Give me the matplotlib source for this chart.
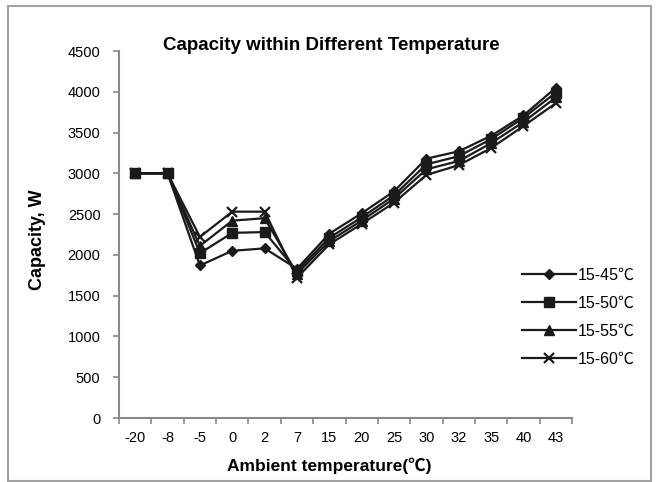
import matplotlib
matplotlib.use("Agg")
import matplotlib.pyplot as plt
from matplotlib.patches import Rectangle
import numpy as np

plt.rcParams['font.family'] = ['Liberation Sans', 'Noto Sans CJK SC', 'DejaVu Sans']

categories = ["-20", "-8", "-5", "0", "2", "7", "15", "20", "25", "30", "32", "35", "40", "43"]
s45 = [3000, 3000, 1870, 2050, 2080, 1830, 2260, 2510, 2780, 3180, 3270, 3460, 3710, 4050]
s50 = [3000, 3000, 2020, 2270, 2280, 1800, 2210, 2460, 2730, 3110, 3210, 3420, 3680, 3990]
s55 = [3000, 3000, 2110, 2420, 2450, 1770, 2170, 2420, 2690, 3050, 3150, 3370, 3630, 3930]
s60 = [3000, 3000, 2220, 2530, 2530, 1720, 2130, 2380, 2640, 2980, 3100, 3310, 3580, 3860]
series_names = ["15-45℃", "15-50℃", "15-55℃", "15-60℃"]
yticks = [0, 500, 1000, 1500, 2000, 2500, 3000, 3500, 4000, 4500]

fig = plt.figure(figsize=(6.59, 4.82), dpi=100)
fig.patches.append(Rectangle((8/659, 1/482), 643/659, 475/482, transform=fig.transFigure,
                             fill=False, edgecolor='#a0a0a0', linewidth=1.5))
ax = fig.add_axes([119/659, 1-418/482, (572-119)/659, (418-51)/482])

x = np.arange(len(categories))
styles = [('D', 5.5), ('s', 7), ('^', 7.5), ('x', 7.5)]
for vals, name, (m, ms) in zip([s45, s50, s55, s60], series_names, styles):
    ax.plot(x, vals, color='#1a1a1a', linewidth=1.6, marker=m, markersize=ms,
            markeredgewidth=1.6 if m == 'x' else 1.0, label=name)

ax.set_xlim(-0.5, len(categories) - 0.5)
ax.set_ylim(0, 4500)
ax.set_yticks(yticks)
ax.set_yticklabels([str(v) for v in yticks], fontsize=10.5)
ax.set_xticks(x)
ax.set_xticklabels(categories, fontsize=10.5)
ax.set_xticks(np.arange(-0.5, len(categories), 1), minor=True)
ax.tick_params(axis='x', which='major', length=0, pad=9)
ax.tick_params(axis='x', which='minor', length=4.3, color='#888888', width=1.2)
ax.tick_params(axis='y', length=4.3, color='#888888', width=1.2, pad=9)
for s in ['top', 'right']:
    ax.spines[s].set_visible(False)
for s in ['left', 'bottom']:
    ax.spines[s].set_color('#888888')
    ax.spines[s].set_linewidth(1.5)

fig.text(331/659, 1-45/482, "Capacity within Different Temperature", ha='center', va='center',
         fontsize=13.5, fontweight='bold')
fig.text(0.5, 1-466/482, "Ambient temperature(℃)", ha='center', va='center',
         fontsize=12.5, fontweight='bold')
fig.text(37/659, 1-240/482, "Capacity, W", ha='center', va='center', rotation=90,
         fontsize=13, fontweight='bold')

leg = ax.legend(loc='upper left', bbox_to_anchor=(514/659, 1-260/482), bbox_transform=fig.transFigure,
                frameon=False, fontsize=11.5, handlelength=3.4, handletextpad=0.1, labelspacing=0.8,
                borderpad=0)

fig.savefig("out.png", dpi=100)
